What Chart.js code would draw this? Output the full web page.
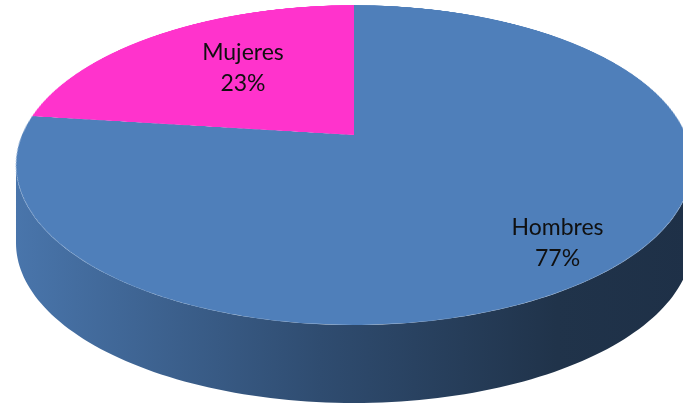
<!DOCTYPE html>
<html>
<head>
<meta charset="utf-8">
<script src="https://cdn.jsdelivr.net/npm/chart.js@4.4.1/dist/chart.umd.min.js"></script>
<style>
  html, body { margin: 0; padding: 0; background: #fff; }
  #stage { position: relative; width: 683px; height: 408px; overflow: hidden; }
  #side, #labels { position: absolute; left: 0; top: 0; }
  #side { z-index: 1; }
  #labels { z-index: 3; }
  /* the pie lies flat and is tilted back like the Excel 3D pie */
  #wrap {
    position: absolute; left: 22px; top: -197px; width: 664px; height: 664px; z-index: 2;
    transform-origin: 50% 50%;
    transform: perspective(1567px) rotateX(62.3deg);
  }
</style>
</head>
<body>
<div id="stage">
  <canvas id="side" width="683" height="408"></canvas>
  <div id="wrap"><canvas id="myChart" width="664" height="664"></canvas></div>
  <canvas id="labels" width="683" height="408"></canvas>
</div>
<script>
// data
const categories = ['Hombres', 'Mujeres'];
const values = [77, 23];
const colors = ['#4f7fba', '#ff33cc'];

// tilt, must match the css above
const TILT = 62.3 * Math.PI / 180;
const PERSP = 1567;
const WRAP_LEFT = 22, WRAP_TOP = -197;
const DEPTH = 78;

// chart canvas point -> screen point
function project(chart, px, py) {
  const ox = chart.width / 2, oy = chart.height / 2;
  const dx = px - ox, dy = py - oy;
  const s = PERSP / (PERSP - dy * Math.sin(TILT));
  return {
    x: WRAP_LEFT + ox + dx * s,
    y: WRAP_TOP + oy + dy * Math.cos(TILT) * s
  };
}

function shade(hex, k) {
  const n = parseInt(hex.slice(1), 16);
  const r = Math.round(((n >> 16) & 255) * k);
  const g = Math.round(((n >> 8) & 255) * k);
  const b = Math.round((n & 255) * k);
  return 'rgb(' + r + ',' + g + ',' + b + ')';
}

const pie3d = {
  id: 'pie3d',
  afterDraw(chart, args, opts) {
    const meta = chart.getDatasetMeta(0);
    const ds = chart.data.datasets[0];
    const total = ds.data.reduce((a, b) => a + b, 0);

    // side wall
    const sctx = document.getElementById('side').getContext('2d');
    sctx.clearRect(0, 0, 683, 408);
    meta.data.forEach((arc, i) => {
      const R = arc.outerRadius;
      const edge = Math.asin(R * Math.sin(TILT) / PERSP);
      const lo = Math.max(arc.startAngle, edge);
      const hi = Math.min(arc.endAngle, Math.PI - edge);
      if (hi <= lo) return;
      const pts = [];
      const steps = 120;
      for (let k = 0; k <= steps; k++) {
        const t = lo + (hi - lo) * k / steps;
        pts.push(project(chart, arc.x + R * Math.cos(t), arc.y + R * Math.sin(t)));
      }
      const left = Math.min(...pts.map(p => p.x)), right = Math.max(...pts.map(p => p.x));
      const grad = sctx.createLinearGradient(left, 0, right, 0);
      const c = ds.backgroundColor[i];
      grad.addColorStop(0, shade(c, 0.92));
      grad.addColorStop(0.45, shade(c, 0.6));
      grad.addColorStop(0.8, shade(c, 0.4));
      grad.addColorStop(1, shade(c, 0.38));
      sctx.beginPath();
      pts.forEach((p, k) => k ? sctx.lineTo(p.x, p.y) : sctx.moveTo(p.x, p.y));
      for (let k = pts.length - 1; k >= 0; k--) sctx.lineTo(pts[k].x, pts[k].y + DEPTH);
      sctx.closePath();
      sctx.fillStyle = grad;
      sctx.fill();
    });

    // labels, drawn flat
    const lctx = document.getElementById('labels').getContext('2d');
    lctx.clearRect(0, 0, 683, 408);
    lctx.font = '23px Lato, "Open Sans", sans-serif';
    lctx.fillStyle = '#101010';
    lctx.textAlign = 'center';
    lctx.textBaseline = 'alphabetic';
    meta.data.forEach((arc, i) => {
      const mid = (arc.startAngle + arc.endAngle) / 2 + opts.turn[i];
      const r = arc.outerRadius * opts.radius[i];
      const p = project(chart, arc.x + r * Math.cos(mid), arc.y + r * Math.sin(mid));
      const pct = Math.round(ds.data[i] / total * 100) + '%';
      lctx.fillText(chart.data.labels[i], p.x, p.y - 7);
      lctx.fillText(pct, p.x, p.y + 24);
    });
  }
};

const myChart = new Chart(document.getElementById('myChart'), {
  type: 'pie',
  data: {
    labels: categories,
    datasets: [{
      data: values,
      backgroundColor: colors,
      borderWidth: 0,
      clip: false
    }]
  },
  options: {
    responsive: false,
    animation: false,
    events: [],
    layout: { padding: 0 },
    plugins: {
      legend: { display: false },
      tooltip: { enabled: false },
      pie3d: { radius: [0.82, 0.6], turn: [0, 0.07] }
    }
  },
  plugins: [pie3d]
});
</script>
</body>
</html>
